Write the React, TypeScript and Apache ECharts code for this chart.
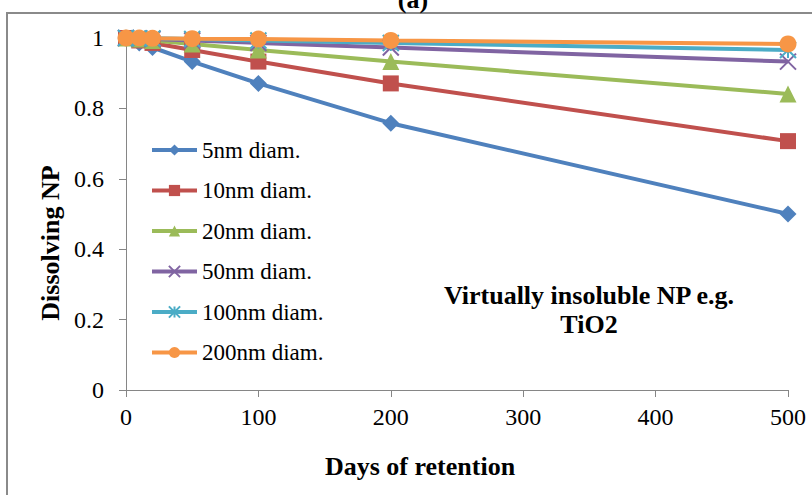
import React, { useEffect, useRef } from "react";
import * as echarts from "echarts";

// Days of retention (x) and fraction of NP remaining per particle diameter
const days = [0, 10, 20, 50, 100, 200, 500];
const d5nm = [1, 0.986, 0.973, 0.933, 0.871, 0.758, 0.5];
const d10nm = [1, 0.993, 0.986, 0.966, 0.933, 0.871, 0.707];
const d20nm = [1, 0.997, 0.993, 0.983, 0.966, 0.933, 0.841];
const d50nm = [1, 0.999, 0.997, 0.993, 0.986, 0.973, 0.933];
const d100nm = [1, 0.999, 0.999, 0.997, 0.993, 0.986, 0.966];
const d200nm = [1, 1.0, 0.999, 0.998, 0.997, 0.993, 0.983];

const seriesNames = [
  "5nm diam.",
  "10nm diam.",
  "20nm diam.",
  "50nm diam.",
  "100nm diam.",
  "200nm diam.",
];
const seriesValues = [d5nm, d10nm, d20nm, d50nm, d100nm, d200nm];
const colors = ["#4F81BD", "#C0504D", "#9BBB59", "#8064A2", "#4BACC6", "#F79646"];

const CROSS = "path://M0,0L10,10M10,0L0,10";
const STAR = "path://M0,0L10,10M10,0L0,10M5,0L5,10";
const symbols = ["diamond", "rect", "triangle", CROSS, STAR, "circle"];
const symbolSizes = [17, 16, 17, 16, 16, 17];

const FONT = "'Liberation Serif', 'Times New Roman', serif";

export default function App() {
  const ref = useRef<HTMLDivElement>(null);

  useEffect(() => {
    document.body.style.margin = "0";
    if (!ref.current) return;
    const chart = echarts.init(ref.current, null, { renderer: "svg" });

    const series = seriesNames.map((name, i) => {
      const strokeOnly = symbols[i] === CROSS || symbols[i] === STAR;
      return {
        name,
        type: "line",
        data: days.map((d, k) => [d, seriesValues[i][k]]),
        symbol: symbols[i],
        symbolSize: symbolSizes[i],
        showAllSymbol: true,
        lineStyle: { color: colors[i], width: 4 },
        itemStyle: strokeOnly
          ? { color: colors[i], borderColor: colors[i], borderWidth: 2 }
          : { color: colors[i], borderColor: colors[i], borderWidth: 0 },
        emphasis: { disabled: true },
      };
    });

    chart.setOption({
      animation: false,
      color: colors,
      textStyle: { fontFamily: FONT },
      grid: {
        left: 126,
        right: 24,
        top: 38,
        bottom: 105,
        containLabel: false,
        outerBoundsMode: "none",
      },
      xAxis: {
        type: "value",
        min: 0,
        max: 500,
        interval: 100,
        axisLine: { show: true, lineStyle: { color: "#868686", width: 1 } },
        axisTick: { show: true, inside: false, length: 7, lineStyle: { color: "#868686" } },
        splitLine: { show: false },
        axisLabel: { color: "#000", fontSize: 24, fontFamily: FONT, margin: 15 },
      },
      yAxis: {
        type: "value",
        min: 0,
        max: 1,
        interval: 0.2,
        axisLine: { show: true, lineStyle: { color: "#868686", width: 1 } },
        axisTick: { show: true, inside: false, length: 7, lineStyle: { color: "#868686" } },
        splitLine: { show: false },
        axisLabel: { color: "#000", fontSize: 24, fontFamily: FONT, margin: 22 },
      },
      legend: {
        orient: "vertical",
        left: 150,
        top: 138,
        padding: 0,
        itemWidth: 45,
        itemHeight: 14,
        itemGap: 16.5,
        selectedMode: false,
        lineStyle: { width: 4 },
        textStyle: { color: "#000", fontSize: 23, fontFamily: FONT, lineHeight: 24 },
        data: seriesNames,
      },
      graphic: [
        {
          type: "rect",
          silent: true,
          z: -1,
          shape: { x: 7, y: 13, width: 1200, height: 1000 },
          style: { fill: "none", stroke: "#8a8a8a", lineWidth: 2 },
        },
        {
          type: "text",
          x: 413,
          y: -1,
          style: {
            text: "(a)",
            font: `bold 26px ${FONT}`,
            fill: "#000",
            align: "center",
            verticalAlign: "middle",
          },
        },
        {
          type: "text",
          x: 420,
          y: 466,
          style: {
            text: "Days of retention",
            font: `bold 26px ${FONT}`,
            fill: "#000",
            align: "center",
            verticalAlign: "middle",
          },
        },
        {
          type: "text",
          x: 50,
          y: 243,
          rotation: Math.PI / 2,
          style: {
            text: "Dissolving NP",
            font: `bold 26px ${FONT}`,
            fill: "#000",
            align: "center",
            verticalAlign: "middle",
          },
        },
        {
          type: "text",
          x: 589,
          y: 310,
          style: {
            text: "Virtually insoluble NP e.g.\nTiO2",
            font: `bold 26px ${FONT}`,
            lineHeight: 29,
            fill: "#000",
            align: "center",
            verticalAlign: "middle",
          },
        },
      ],
      series,
    });

    return () => chart.dispose();
  }, []);

  return <div ref={ref} style={{ width: 812, height: 495 }} />;
}
